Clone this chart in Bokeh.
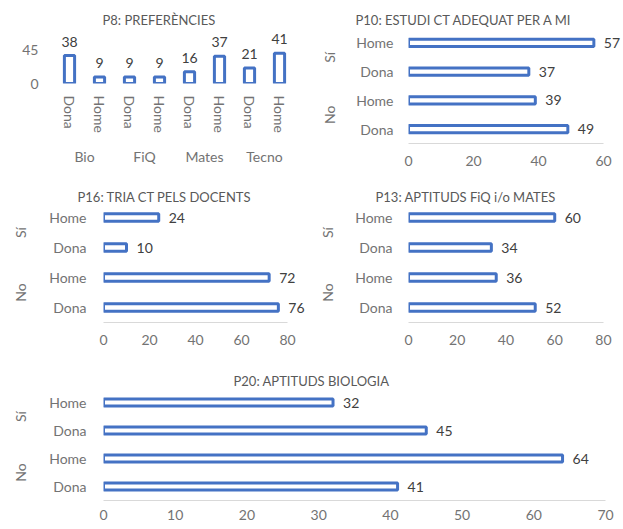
from bokeh.plotting import figure
from bokeh.models import FactorRange, FixedTicker, Range1d, ColumnDataSource
from bokeh.layouts import column, row
from bokeh.embed import file_html
from bokeh.resources import INLINE
from bokeh.core.properties import value

# ---------------- data ----------------
p8_subjects = ["Bio", "FiQ", "Mates", "Tecno"]
p8_genders = ["Dona", "Home"]
p8_values = [38, 9, 9, 9, 16, 37, 21, 41]
p8_ticks = [0, 45]

answers = ["No", "Sí"]          # bottom -> top
hb_genders = ["Dona", "Home"]   # bottom -> top inside each answer
p10_values = [49, 39, 37, 57]   # No-Dona, No-Home, Sí-Dona, Sí-Home
p16_values = [76, 72, 10, 24]
p13_values = [52, 36, 34, 60]
p20_values = [41, 64, 45, 32]
p10_ticks = [0, 20, 40, 60]
p16_ticks = [0, 20, 40, 60, 80]
p13_ticks = [0, 20, 40, 60, 80]
p20_ticks = [0, 10, 20, 30, 40, 50, 60, 70]

FONT = "Lato"
BLUE = "#4472C4"
LABEL_C = "#737373"
VALUE_C = "#404040"
TITLE_C = "#595959"


def base_style(p, title, offset, standoff):
    p.title.text = title
    p.title.align = "left"
    p.title.offset = offset
    p.title.standoff = standoff
    p.title.text_font = FONT
    p.title.text_font_size = "13px"
    p.title.text_font_style = "normal"
    p.title.text_color = TITLE_C
    p.xgrid.visible = False
    p.ygrid.visible = False
    p.outline_line_color = None
    p.background_fill_color = "white"
    p.border_fill_color = "white"
    for ax in p.axis:
        ax.major_tick_line_color = None
        ax.minor_tick_line_color = None
        ax.major_tick_out = 0
        ax.major_tick_in = 0
        ax.minor_tick_out = 0
        ax.minor_tick_in = 0
        ax.major_label_text_font = FONT
        ax.major_label_text_font_size = "14px"
        ax.major_label_text_color = LABEL_C


def cat_style(ax, standoff):
    ax.axis_line_color = None
    ax.major_label_standoff = standoff
    ax.group_text_font = FONT
    ax.group_text_font_size = "14px"
    ax.group_text_color = LABEL_C
    ax.group_text_font_style = "normal"
    ax.separator_line_color = None


# ---------------- P8 (vertical bars) ----------------
p8_factors = [(s, g) for s in p8_subjects for g in p8_genders]
p8_src = ColumnDataSource(dict(x=p8_factors, top=p8_values,
                               label=[str(v) for v in p8_values]))
p8 = figure(width=310, height=176,
            x_range=FactorRange(*p8_factors, factor_padding=0, group_padding=0,
                                subgroup_padding=0, range_padding=0),
            y_range=Range1d(0, 72),
            output_backend="svg", toolbar_location=None,
            min_border_left=54, min_border_right=16,
            min_border_top=30, min_border_bottom=93)
p8.vbar(x="x", top="top", width=0.34, source=p8_src,
        fill_color="white", line_color=BLUE, line_width=3)
p8.text(x="x", y="top", text="label", source=p8_src,
        text_align="center", text_baseline="bottom", y_offset=-9,
        text_font=value(FONT), text_font_size="14px", text_color=VALUE_C)
base_style(p8, "P8: PREFERÈNCIES", 48, 5)
cat_style(p8.xaxis[0], 12)
p8.xaxis[0].major_label_orientation = "vertical"
p8.yaxis[0].ticker = FixedTicker(ticks=p8_ticks)
p8.yaxis[0].axis_line_color = None
p8.yaxis[0].major_label_standoff = 16


# ---------------- horizontal bar panels ----------------
hb_factors = [(a, g) for a in answers for g in hb_genders]


def hbar_panel(title, values, ticks, width, height, x_end, borders,
               title_offset, title_standoff, cat_standoff, tick_standoff):
    left, right, top, bottom = borders
    src = ColumnDataSource(dict(y=hb_factors, right=values,
                                label=[str(v) for v in values]))
    p = figure(width=width, height=height,
               y_range=FactorRange(*hb_factors, factor_padding=0, group_padding=0,
                                   subgroup_padding=0, range_padding=0),
               x_range=Range1d(0, x_end),
               output_backend="svg", toolbar_location=None,
               min_border_left=left, min_border_right=right,
               min_border_top=top, min_border_bottom=bottom)
    p.hbar(y="y", left=0, right="right", height=0.25, source=src,
           fill_color="white", line_color=BLUE, line_width=3)
    p.text(x="right", y="y", text="label", source=src,
           text_align="left", text_baseline="middle", x_offset=10,
           text_font=value(FONT), text_font_size="14px", text_color=VALUE_C)
    base_style(p, title, title_offset, title_standoff)
    cat_style(p.yaxis[0], cat_standoff)
    xa = p.xaxis[0]
    xa.ticker = FixedTicker(ticks=ticks)
    xa.bounds = (ticks[0], ticks[-1])
    xa.axis_line_color = "#D9D9D9"
    xa.axis_line_width = 1
    xa.major_label_standoff = tick_standoff
    return p


p10 = hbar_panel("P10: ESTUDI CT ADEQUAT PER A MI", p10_values, p10_ticks,
                 313, 176, 65.5, (98, 2, 28, 33), -53, 1, 15, 12)
p16 = hbar_panel("P16: TRIA CT PELS DOCENTS", p16_values, p16_ticks,
                 310, 178, 89.1, (103, 2, 26, 32), -26, -4, 17, 12)
p13 = hbar_panel("P13: APTITUDS FiQ i/o MATES", p13_values, p13_ticks,
                 313, 178, 87.4, (98, 2, 26, 32), -33, -4, 16, 12)
p20 = hbar_panel("P20: APTITUDS BIOLOGIA", p20_values, p20_ticks,
                 623, 175, 71.8, (103, 5, 34, 29), 130, 0, 17, 9)

# each figure in its own box so that Bokeh does not align their frames
layout = column(
    row(column(p8), column(p10), spacing=0),
    row(column(p16), column(p13), spacing=0),
    column(p20),
    spacing=0,
)

open("out.html", "w").write(file_html(layout, INLINE))
